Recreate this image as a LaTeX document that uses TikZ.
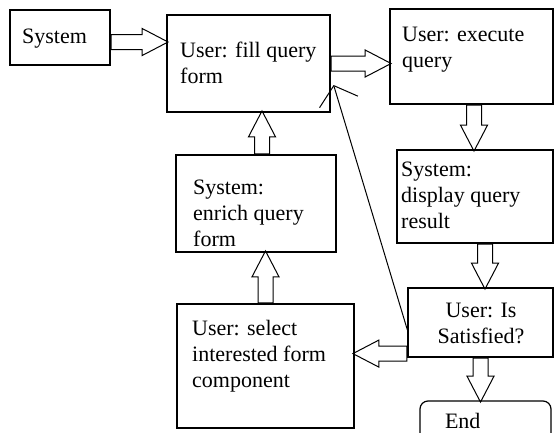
\documentclass[tikz,border=0pt]{standalone}
\usepackage{fontspec}
\setmainfont{Liberation Serif}
\usetikzlibrary{shapes.arrows, arrows.meta, positioning, calc}

\tikzset{
  stepbox/.style={draw, line width=1.2pt, inner sep=0pt},
  boxtext/.style={anchor=base west, align=left, inner sep=0pt, font=\fontsize{22}{26}\selectfont},
  blockarr/.style={single arrow, draw, line width=1pt, inner sep=0pt, inner ysep=7pt,
    single arrow head extend=6pt, single arrow tip angle=55, sloped, allow upside down,
    pos=0, anchor=tail},
}

\begin{document}
\begin{tikzpicture}[x=1pt, y=-1pt]
  \useasboundingbox (0,0) rectangle (555,432);

  % Boxes
  \node[stepbox, minimum width=100pt, minimum height=55pt] (sys) at (60,37.5) {};
  \node[stepbox, minimum width=163pt, minimum height=97pt] (fill) at (248.5,63.5) {};
  \node[stepbox, minimum width=163pt, minimum height=95pt] (exec) at (471.5,56.5) {};
  \node[stepbox, minimum width=156pt, minimum height=93pt] (disp) at (475,196.5) {};
  \node[stepbox, minimum width=145pt, minimum height=69pt] (sat) at (480.5,322.5) {};
  \node[stepbox, minimum width=160pt, minimum height=97pt] (enr) at (256,203.5) {};
  \node[stepbox, minimum width=177pt, minimum height=124pt] (sel) at (265.5,366) {};
  \node[stepbox, rounded corners=8pt, minimum width=131pt, minimum height=40pt,
    inner xsep=25pt, text width=81pt, align=left, font=\fontsize{22}{26}\selectfont] (end) at (485.5,421) {End};

  % Box texts (anchored at the baseline of the last line)
  \node[boxtext] (sys-t) at (22,43) {System};
  \node[boxtext] (fill-t) at (180,83) {User: fill query\\form};
  \node[boxtext] (exec-t) at (402,67) {User: execute\\query};
  \node[boxtext] (disp-t) at (401,228) {System:\\display query\\result};
  \node[boxtext, anchor=base, align=center] (sat-t) at (481,343) {User: Is\\Satisfied?};
  \node[boxtext] (enr-t) at (193,246) {System:\\enrich query\\form};
  \node[boxtext] (sel-t) at (192,387) {User: select\\interested form\\component};

  % Block arrows
  \coordinate (p1) at ([yshift=-4.5pt]sys.east);
  \path (p1) -- (p1 -| fill.west) node[blockarr, minimum height=57pt] (a1) {};
  \path (fill.east) -- (fill.east -| exec.west) node[blockarr, minimum height=60pt] (a2) {};
  \coordinate (p3) at ([xshift=2.5pt]exec.south);
  \path (p3) -- (p3 |- disp.north) node[blockarr, minimum height=46pt] (a3) {};
  \coordinate (p4) at ([xshift=10pt]disp.south);
  \path (p4) -- (p4 |- sat.north) node[blockarr, minimum height=45pt] (a4) {};
  \path (sat.south) -- (sat.south |- end.north) node[blockarr, minimum height=44pt] (a5) {};
  \coordinate (p6) at ([yshift=4pt]sat.south west);
  \path (p6) -- (p6 -| sel.east) node[blockarr, minimum height=54pt] (a6) {};
  \path (sel.north) -- (sel.north |- enr.south) node[blockarr, minimum height=52pt] (a7) {};
  \coordinate (p8) at ([xshift=6pt]enr.north);
  \path (p8) -- (p8 |- fill.south) node[blockarr, minimum height=43pt] (a8) {};

  % Back to the form
  \draw[line width=1pt, -{Straight Barb[length=17pt, width=40pt]}]
    ([yshift=-7.5pt]sat.west) -- ([xshift=3pt, yshift=-21.5pt]fill.east);
\end{tikzpicture}
\end{document}
